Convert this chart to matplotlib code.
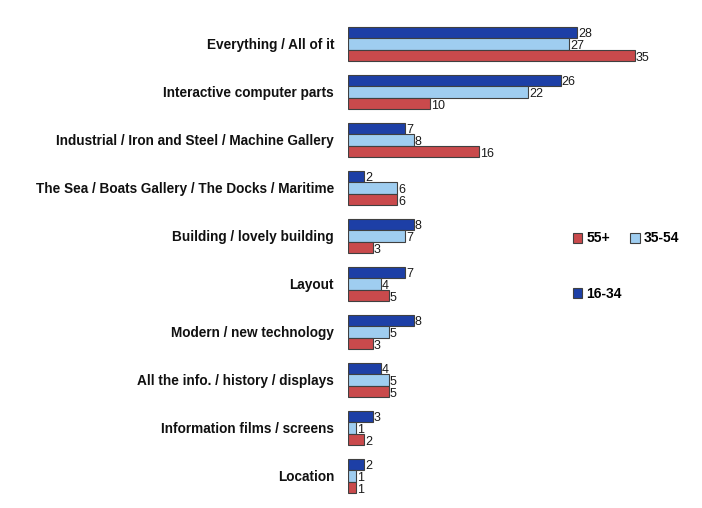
import matplotlib
matplotlib.use('Agg')
from matplotlib import pyplot as plt
import numpy as np

categories = ['Everything / All of it', 'Interactive computer parts',
              'Industrial / Iron and Steel / Machine Gallery',
              'The Sea / Boats Gallery / The Docks / Maritime',
              'Building / lovely building', 'Layout', 'Modern / new technology',
              'All the info. / history / displays', 'Information films / screens',
              'Location']
age_16_34 = [28, 26, 7, 2, 8, 7, 8, 4, 3, 2]
age_35_54 = [27, 22, 8, 6, 7, 4, 5, 5, 1, 1]
age_55 = [35, 10, 16, 6, 3, 5, 3, 5, 2, 1]

plt.rcParams['font.family'] = ['Liberation Sans', 'DejaVu Sans']

fig = plt.figure(figsize=(7.02, 5.08), dpi=100)
ax = fig.add_axes([348/702, 1-500/508, 344/702, 480/508])

y = np.arange(len(categories))
h = 0.243
series = [(age_16_34, '#1d3fa6', '16-34', -h),
          (age_35_54, '#9fcdf0', '35-54', 0),
          (age_55, '#c94a4c', '55+', h)]
bars = {}
for vals, col, lab, off in series:
    b = ax.barh(y + off, vals, height=h, color=col, edgecolor='#404040', linewidth=0.8, label=lab)
    bars[lab] = b
    for yy, v in zip(y + off, vals):
        ax.text(v + 0.1, yy + 0.04, str(v), va='center', ha='left', fontsize=9, color='#1a1a1a')

ax.set_xlim(0, 42)
ax.set_ylim(len(categories) - 0.5, -0.5)
ax.set_yticks(y)
ax.set_yticklabels(categories, fontsize=9.8, fontweight='bold', color='#111111')
ax.tick_params(axis='y', length=0, pad=10)
ax.set_xticks([])
for s in ax.spines.values():
    s.set_visible(False)

handles = [bars['55+'], bars['16-34'], bars['35-54']]
fig.legend(handles, ['55+', '16-34', '35-54'], ncol=2, loc='upper left',
           bbox_to_anchor=(560/702, 1-219/508), frameon=False,
           prop={'weight': 'bold', 'size': 10}, handlelength=0.7, handleheight=0.7,
           handletextpad=0.3, columnspacing=0.6, labelspacing=3.0)

fig.savefig('out.png', dpi=100)
